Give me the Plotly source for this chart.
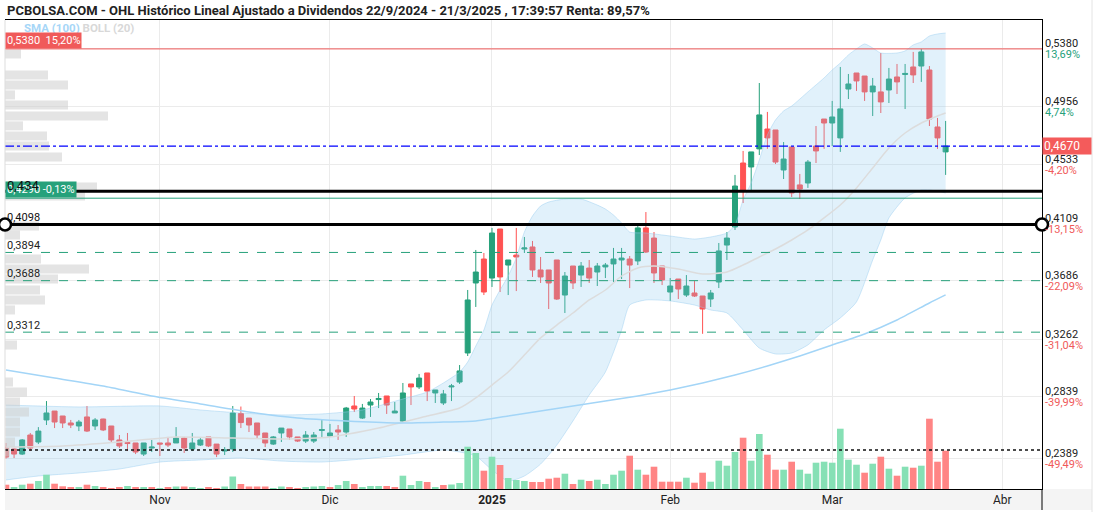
import plotly.graph_objects as go
import pandas as pd

# ---------------- calendar (trading days, Spanish market) ----------------
holidays = ["2024-12-25", "2024-12-26", "2025-01-01"]
days = [d.strftime("%Y-%m-%d") for d in pd.bdate_range("2024-10-07", "2025-04-08")
        if d.strftime("%Y-%m-%d") not in holidays]
n_candles = 117
dates = days[:n_candles]

# ---------------- OHLC ----------------
opens = [0.2466, 0.2459, 0.2422, 0.2561, 0.2510, 0.2671, 0.2736, 0.2700, 0.2649, 0.2627,
         0.2693, 0.2627, 0.2678, 0.2627, 0.2525, 0.2506, 0.2503, 0.2422, 0.2466, 0.2503,
         0.2503, 0.2503, 0.2539, 0.2459, 0.2488, 0.2547, 0.2495, 0.2444, 0.2459, 0.2718,
         0.2685, 0.2649, 0.2576, 0.2495, 0.2576, 0.2605, 0.2547, 0.2517, 0.2517, 0.2594,
         0.2554, 0.2598, 0.2583, 0.2773, 0.2685, 0.2780, 0.2820, 0.2846, 0.2722, 0.2663,
         0.2934, 0.2912, 0.3014, 0.2868, 0.2795, 0.2912, 0.2948, 0.3160, 0.3671, 0.3846,
         0.3707, 0.4065, 0.3802, 0.3875, 0.3919, 0.3934, 0.3766, 0.3766, 0.3839, 0.3583,
         0.3795, 0.3729, 0.3780, 0.3751, 0.3788, 0.3810, 0.3839, 0.3846, 0.3832, 0.4073,
         0.3999, 0.3795, 0.3605, 0.3700, 0.3583, 0.3598, 0.3576, 0.3554, 0.3678, 0.3948,
         0.4080, 0.4547, 0.4518, 0.4650, 0.4795, 0.4788, 0.4496, 0.4664, 0.4387, 0.4401,
         0.4671, 0.4868, 0.4839, 0.4730, 0.5087, 0.5204, 0.5182, 0.5066, 0.5066, 0.5080,
         0.5175, 0.5193, 0.5248, 0.5255, 0.5226, 0.4810, 0.4628]
highs = [0.2503, 0.2462, 0.2532, 0.2576, 0.2619, 0.2809, 0.2736, 0.2700, 0.2671, 0.2671,
         0.2773, 0.2685, 0.2680, 0.2627, 0.2561, 0.2576, 0.2503, 0.2503, 0.2525, 0.2503,
         0.2547, 0.2619, 0.2547, 0.2576, 0.2539, 0.2547, 0.2495, 0.2473, 0.2773, 0.2769,
         0.2685, 0.2649, 0.2576, 0.2554, 0.2612, 0.2605, 0.2547, 0.2590, 0.2583, 0.2671,
         0.2642, 0.2634, 0.2766, 0.2846, 0.2788, 0.2824, 0.2868, 0.2846, 0.2802, 0.2941,
         0.2934, 0.3007, 0.3014, 0.2890, 0.2890, 0.2934, 0.3072, 0.3620, 0.3912, 0.3890,
         0.4073, 0.4065, 0.3839, 0.4073, 0.4007, 0.3978, 0.3861, 0.3766, 0.3839, 0.3751,
         0.3795, 0.3824, 0.3839, 0.3817, 0.3817, 0.3927, 0.3927, 0.3868, 0.4109, 0.4189,
         0.4043, 0.3795, 0.3707, 0.3700, 0.3729, 0.3686, 0.3576, 0.3620, 0.3963, 0.4043,
         0.4460, 0.4635, 0.4628, 0.5131, 0.4920, 0.4788, 0.4700, 0.4664, 0.4467, 0.4569,
         0.4817, 0.4868, 0.5000, 0.5248, 0.5197, 0.5204, 0.5182, 0.5168, 0.5350, 0.5241,
         0.5270, 0.5270, 0.5358, 0.5380, 0.5255, 0.4876, 0.4854]
lows = [0.2389, 0.2393, 0.2415, 0.2444, 0.2495, 0.2634, 0.2612, 0.2612, 0.2612, 0.2590,
        0.2583, 0.2598, 0.2590, 0.2503, 0.2466, 0.2444, 0.2422, 0.2408, 0.2437, 0.2408,
        0.2473, 0.2503, 0.2430, 0.2444, 0.2481, 0.2473, 0.2400, 0.2415, 0.2437, 0.2612,
        0.2583, 0.2532, 0.2473, 0.2488, 0.2510, 0.2525, 0.2510, 0.2503, 0.2503, 0.2547,
        0.2547, 0.2525, 0.2547, 0.2729, 0.2678, 0.2693, 0.2758, 0.2715, 0.2722, 0.2656,
        0.2780, 0.2897, 0.2809, 0.2795, 0.2780, 0.2809, 0.2934, 0.3138, 0.3496, 0.3583,
        0.3642, 0.3605, 0.3583, 0.3612, 0.3890, 0.3715, 0.3671, 0.3481, 0.3547, 0.3452,
        0.3627, 0.3642, 0.3671, 0.3649, 0.3707, 0.3678, 0.3700, 0.3634, 0.3802, 0.3890,
        0.3671, 0.3656, 0.3540, 0.3554, 0.3569, 0.3569, 0.3300, 0.3496, 0.3634, 0.3839,
        0.4058, 0.4255, 0.4350, 0.4605, 0.4650, 0.4540, 0.4430, 0.4299, 0.4284, 0.4365,
        0.4547, 0.4650, 0.4671, 0.4628, 0.5014, 0.5073, 0.5000, 0.4890, 0.4912, 0.4985,
        0.5051, 0.4941, 0.5131, 0.5139, 0.4817, 0.4650, 0.4460]
closes = [0.2400, 0.2422, 0.2525, 0.2466, 0.2590, 0.2722, 0.2656, 0.2649, 0.2634, 0.2656,
          0.2590, 0.2671, 0.2598, 0.2525, 0.2481, 0.2499, 0.2437, 0.2503, 0.2473, 0.2495,
          0.2488, 0.2539, 0.2466, 0.2503, 0.2525, 0.2481, 0.2422, 0.2452, 0.2722, 0.2652,
          0.2634, 0.2561, 0.2503, 0.2547, 0.2612, 0.2547, 0.2517, 0.2561, 0.2561, 0.2601,
          0.2576, 0.2583, 0.2758, 0.2751, 0.2758, 0.2802, 0.2828, 0.2780, 0.2736, 0.2868,
          0.2912, 0.2977, 0.2882, 0.2890, 0.2861, 0.2919, 0.3029, 0.3547, 0.3751, 0.3605,
          0.4036, 0.3715, 0.3839, 0.3861, 0.3927, 0.3766, 0.3715, 0.3671, 0.3554, 0.3722,
          0.3671, 0.3795, 0.3707, 0.3795, 0.3802, 0.3846, 0.3853, 0.3802, 0.4073, 0.3897,
          0.3744, 0.3693, 0.3649, 0.3627, 0.3649, 0.3576, 0.3481, 0.3598, 0.3905, 0.3999,
          0.4379, 0.4343, 0.4628, 0.4898, 0.4730, 0.4554, 0.4576, 0.4328, 0.4357, 0.4554,
          0.4635, 0.4839, 0.4883, 0.4942, 0.5124, 0.5146, 0.5066, 0.5109, 0.4993, 0.5160,
          0.5139, 0.5201, 0.5190, 0.5358, 0.4868, 0.4730, 0.4670]
volumes = [215, 85, 215, 265, 400, 715, 265, 135, 75, 75,
           215, 150, 75, 25, 75, 150, 75, 75, 75, 25,
           75, 125, 125, 75, 25, 75, 25, 125, 625, 250,
           125, 125, 125, 25, 125, 75, 25, 75, 125, 150,
           75, 200, 400, 250, 100, 150, 150, 150, 100, 665,
           200, 400, 350, 100, 200, 225, 300, 2115, 1800, 915,
           1615, 1200, 550, 450, 400, 350, 350, 515, 565, 765,
           250, 465, 400, 465, 250, 715, 915, 1665, 965, 715,
           1115, 365, 365, 365, 565, 315, 815, 365, 1415, 1165,
           1850, 2565, 1415, 2750, 1715, 965, 965, 1365, 965, 765,
           1315, 1365, 1315, 3015, 1465, 1215, 815, 1265, 1615, 1015,
           665, 1115, 1065, 1165, 3515, 1365, 1915]

# ---------------- indicators (sampled from chart; index = candle number) ----------------
sma100_idx = [1, 7, 13, 19, 25, 31, 37, 43, 49, 55, 59, 63, 67, 71, 75, 79, 83, 87, 91, 95,
              99, 103, 107, 111, 115, 117]
sma100_val = [0.3036, 0.2977, 0.2919, 0.2846, 0.2788, 0.2729, 0.2685, 0.2663, 0.2649, 0.2656,
              0.2663, 0.2700, 0.2737, 0.2773, 0.2809, 0.2846, 0.2890, 0.2941, 0.2999, 0.3065,
              0.3138, 0.3218, 0.3299, 0.3401, 0.3525, 0.3584]

boll_up_idx = [1, 10, 20, 25, 30, 35, 40, 45, 50, 53, 55, 57, 58, 59, 60, 61, 62, 63, 64, 65,
               66, 67, 68, 70, 72, 74, 75, 76, 77, 78, 80, 83, 86, 88, 90, 91, 92, 93, 94, 95,
               96, 97, 98, 100, 102, 103, 104, 105, 106, 107, 108, 109, 111, 112, 113, 114,
               115, 116, 117]
boll_up_val = [0.2780, 0.2766, 0.2773, 0.2744, 0.2722, 0.2708, 0.2715, 0.2744, 0.2824, 0.2875,
               0.2941, 0.3021, 0.3094, 0.3211, 0.3328, 0.3510, 0.3620, 0.3722, 0.3854, 0.4043,
               0.4160, 0.4233, 0.4262, 0.4284, 0.4284, 0.4240, 0.4211, 0.4167, 0.4109, 0.4043,
               0.4036, 0.4014, 0.3992, 0.4007, 0.4036, 0.4094, 0.4277, 0.4401, 0.4569, 0.4752,
               0.4861, 0.4927, 0.4963, 0.5066, 0.5168, 0.5226, 0.5277, 0.5336, 0.5380, 0.5416,
               0.5387, 0.5350, 0.5350, 0.5365, 0.5409, 0.5431, 0.5474, 0.5489, 0.5496]

boll_lo_idx = [1, 5, 10, 15, 20, 25, 30, 35, 40, 45, 50, 55, 57, 59, 61, 63, 65, 67, 69, 71,
               73, 75, 77, 78, 80, 83, 86, 88, 90, 92, 94, 96, 98, 100, 102, 104, 106, 108,
               109, 110, 112, 114, 116, 117]
boll_lo_val = [0.2233, 0.2262, 0.2284, 0.2313, 0.2364, 0.2379, 0.2393, 0.2371, 0.2364, 0.2386,
               0.2415, 0.2452, 0.2437, 0.2408, 0.2306, 0.2225, 0.2262, 0.2349, 0.2488, 0.2664,
               0.2853, 0.3021, 0.3328, 0.3510, 0.3547, 0.3540, 0.3510, 0.3474, 0.3452, 0.3328,
               0.3196, 0.3153, 0.3160, 0.3219, 0.3328, 0.3416, 0.3533, 0.3839, 0.3985, 0.4146,
               0.4292, 0.4350, 0.4343, 0.4328]

boll_mid_idx = [1, 8, 15, 22, 29, 35, 41, 47, 53, 57, 59, 61, 63, 65, 67, 69, 71, 73, 75, 77,
                79, 81, 84, 87, 90, 92, 94, 96, 98, 100, 102, 104, 106, 108, 110, 112, 114,
                116, 117]
boll_mid_val = [0.2473, 0.2481, 0.2510, 0.2547, 0.2539, 0.2532, 0.2547, 0.2612, 0.2700, 0.2758,
                0.2832, 0.2926, 0.3021, 0.3145, 0.3270, 0.3364, 0.3452, 0.3547, 0.3620, 0.3722,
                0.3781, 0.3795, 0.3773, 0.3737, 0.3751, 0.3802, 0.3861, 0.3919, 0.3985, 0.4058,
                0.4146, 0.4240, 0.4365, 0.4511, 0.4657, 0.4766, 0.4839, 0.4890, 0.4912]

# volume-by-price profile (left side)
profile_price = [0.5343, 0.5190, 0.5117, 0.5044, 0.4971, 0.4890, 0.4818, 0.4744, 0.4671, 0.4591,
                 0.4372, 0.4306, 0.4087, 0.4021, 0.3846, 0.3773, 0.3700, 0.3620, 0.3547, 0.3474,
                 0.3218, 0.2948, 0.2875, 0.2802, 0.2729, 0.2656, 0.2583, 0.2510, 0.2437]
profile_vol = [16, 43, 63, 10, 63, 103, 18, 42, 44, 57,
               92, 80, 34, 15, 36, 84, 53, 35, 40, 10,
               12, 8, 22, 15, 24, 15, 15, 10, 5]

# axis labels
right_ticks = [0.5380, 0.4956, 0.4533, 0.4109, 0.3686, 0.3262, 0.2839, 0.2389]
right_tick_text = ["0,5380", "0,4956", "0,4533", "0,4109", "0,3686", "0,3262", "0,2839", "0,2389"]
right_pcts = ["13,69%", "4,74%", "-4,20%", "-13,15%", "-22,09%", "-31,04%", "-39,99%", "-49,49%"]
month_ticks = ["2024-11-01", "2024-12-02", "2025-01-02", "2025-02-03", "2025-03-03", "2025-04-01"]
month_labels = ["Nov", "Dic", "<b>2025</b>", "Feb", "Mar", "Abr"]

# horizontal levels
level_max = 0.5380
level_last = 0.4670
level_green = 0.4290
level_black = [0.434, 0.4098]
level_dashed = [0.3894, 0.3688, 0.3312]
level_dashed_text = ["0,3894", "0,3688", "0,3312"]
level_start = 0.2452

GREEN = "#26a17b"
RED = "#ff5252"
VGREEN = "#86e0b5"
VRED = "#ff8585"

def at(idx):
    return [dates[i - 1] for i in idx]

vol_colors = []
for i in range(n_candles):
    if i == 0:
        up = closes[0] >= opens[0]
    else:
        up = closes[i] >= closes[i - 1]
    vol_colors.append(VGREEN if up else VRED)

fig = go.Figure()

# register all calendar categories (incl. future days on the axis)
fig.add_trace(go.Scatter(x=days, y=[None] * len(days), mode="markers",
                         showlegend=False, hoverinfo="skip"))

# Bollinger band
fig.add_trace(go.Scatter(x=at(boll_up_idx), y=boll_up_val, mode="lines",
                         line=dict(color="rgba(150,205,240,0.45)", width=1, shape="spline", smoothing=0.6),
                         showlegend=False, hoverinfo="skip"))
fig.add_trace(go.Scatter(x=at(boll_lo_idx), y=boll_lo_val, mode="lines", fill="tonexty",
                         fillcolor="rgba(135,200,240,0.25)",
                         line=dict(color="rgba(150,205,240,0.45)", width=1, shape="spline", smoothing=0.6),
                         showlegend=False, hoverinfo="skip"))
fig.add_trace(go.Scatter(x=at(boll_mid_idx), y=boll_mid_val, mode="lines",
                         line=dict(color="#dcdcdc", width=1.5, shape="spline", smoothing=0.6),
                         showlegend=False, hoverinfo="skip"))
fig.add_trace(go.Scatter(x=at(sma100_idx), y=sma100_val, mode="lines",
                         line=dict(color="#a3d5f7", width=1.5, shape="spline", smoothing=0.6),
                         showlegend=False, hoverinfo="skip"))

# candles
fig.add_trace(go.Candlestick(x=dates, open=opens, high=highs, low=lows, close=closes,
                             increasing=dict(line=dict(color=GREEN, width=1), fillcolor=GREEN),
                             decreasing=dict(line=dict(color=RED, width=1), fillcolor=RED),
                             whiskerwidth=0, showlegend=False))

# volume
fig.add_trace(go.Bar(x=dates, y=volumes, yaxis="y2", marker=dict(color=vol_colors, line=dict(width=0)),
                     width=0.82, showlegend=False, hoverinfo="skip"))

# volume profile
fig.add_trace(go.Bar(x=profile_vol, y=profile_price, orientation="h", xaxis="x2", yaxis="y",
                     width=0.0066, marker=dict(color="rgba(205,205,205,0.55)", line=dict(width=0)),
                     showlegend=False, hoverinfo="skip"))

W_PLOT = 1037
shapes = []
def hline(y, color, width=1, dash="solid"):
    shapes.append(dict(type="line", xref="paper", x0=0, x1=1, yref="y", y0=y, y1=y,
                       line=dict(color=color, width=width, dash=dash)))

hline(level_max, "#f05a5a", 1)
hline(level_green, GREEN, 1)
for v in level_dashed:
    hline(v, GREEN, 1, "dash")
hline(level_last, "#0000ff", 1.2, "dashdot")
hline(level_start, "#111111", 1.5, "dot")
for v in level_black:
    hline(v, "#000000", 3)

# frame extras
shapes.append(dict(type="rect", xref="paper", yref="paper", x0=0, x1=1087 / W_PLOT,
                   y0=-21 / 469, y1=0, fillcolor="#f4f4f4", line=dict(width=0), layer="below"))
shapes.append(dict(type="line", xref="paper", yref="paper", x0=0, x1=0, y0=0, y1=1,
                   line=dict(color="#dddddd", width=1)))
shapes.append(dict(type="line", xref="paper", yref="paper", x0=1, x1=1, y0=-21 / 469, y1=0,
                   line=dict(color="#000000", width=1)))
shapes.append(dict(type="line", xref="paper", yref="paper", x0=1087 / W_PLOT, x1=1087 / W_PLOT,
                   y0=-23 / 469, y1=1 + 20 / 469, line=dict(color="#e4e4e4", width=1)))
# circles on the 0,4098 line
for xa in (0, 1):
    shapes.append(dict(type="circle", xref="paper", xsizemode="pixel", xanchor=xa, x0=-6, x1=6,
                       yref="y", ysizemode="pixel", yanchor=level_black[1], y0=-6, y1=6,
                       fillcolor="white", line=dict(color="black", width=2.5)))

ann = []
FONT = "Roboto, Arial, sans-serif"
# title
ann.append(dict(xref="paper", yref="paper", x=0, y=1, xanchor="left", yanchor="middle", yshift=10,
                text="<b>PCBOLSA.COM - OHL Histórico Lineal Ajustado a Dividendos 22/9/2024 - 21/3/2025 , 17:39:57 Renta: 89,57%</b>",
                showarrow=False, font=dict(family=FONT, size=13, color="#222222")))
ann.append(dict(xref="paper", yref="paper", x=17 / W_PLOT, y=1, xanchor="left", yanchor="middle", yshift=-8,
                text="<b><span style='color:#a6d6f7'>SMA (100)</span> <span style='color:#d8d8d8'>BOLL (20)</span></b>",
                showarrow=False, font=dict(family=FONT, size=11.5)))
# left value boxes
ann.append(dict(xref="paper", x=0, xanchor="left", yref="y", y=level_max, yanchor="bottom",
                text="0,5380\u00a0\u00a015,20%", showarrow=False, bgcolor="#f05a5a", borderpad=1,
                font=dict(family=FONT, size=11, color="white")))
ann.append(dict(xref="paper", x=0, xanchor="left", yref="y", y=level_green, yanchor="bottom",
                text="0,4290\u00a0-0,13%", showarrow=False, bgcolor=GREEN, borderpad=1,
                font=dict(family=FONT, size=11, color="white")))
ann.append(dict(xref="paper", x=0, xanchor="left", yref="y", y=level_black[0], yanchor="middle", yshift=6,
                text="0,434", showarrow=False, font=dict(family=FONT, size=13, color="#111111")))
ann.append(dict(xref="paper", x=0, xanchor="left", yref="y", y=level_black[1], yanchor="middle", yshift=7,
                text="0,4098", showarrow=False, font=dict(family=FONT, size=11, color="#111111")))
for v, t in zip(level_dashed, level_dashed_text):
    ann.append(dict(xref="paper", x=0, xanchor="left", yref="y", y=v, yanchor="middle", yshift=7,
                    text=t, showarrow=False, font=dict(family=FONT, size=11, color="#222222")))
# right axis labels
for v, t, p in zip(right_ticks, right_tick_text, right_pcts):
    col = GREEN if not p.startswith("-") else "#f05a5a"
    ann.append(dict(xref="paper", x=1, xanchor="left", xshift=1, yref="y", y=v, yanchor="middle", yshift=5,
                    text=t, showarrow=False, font=dict(family=FONT, size=11, color="#222222")))
    ann.append(dict(xref="paper", x=1, xanchor="left", xshift=1, yref="y", y=v, yanchor="middle", yshift=-6,
                    text=p, showarrow=False, font=dict(family=FONT, size=11, color=col)))
# last price box
ann.append(dict(xref="paper", x=1, xanchor="left", yref="y", y=level_last, yanchor="middle",
                text="0,4670", showarrow=False, bgcolor="#f45b5b", borderpad=1, width=46, align="left",
                font=dict(family=FONT, size=12, color="white")))

fig.update_layout(
    width=1096, height=512,
    margin=dict(l=5, r=54, t=20, b=23),
    paper_bgcolor="white", plot_bgcolor="white",
    font=dict(family=FONT, size=11, color="#222222"),
    showlegend=False, boxgap=0.12,
    xaxis=dict(type="category", categoryorder="array", categoryarray=days,
               range=[-0.12, 127.9], tickmode="array", tickvals=month_ticks, ticktext=month_labels,
               showgrid=True, gridcolor="#ebebeb", gridwidth=1, ticks="",
               showline=True, linecolor="#000000", linewidth=1, mirror=True,
               rangeslider=dict(visible=False),
               tickfont=dict(family="Liberation Sans Narrow, Roboto, Arial", size=12, color="#222222")),
    xaxis2=dict(overlaying="x", range=[0, W_PLOT], visible=False, anchor="y"),
    yaxis=dict(side="right", range=[0.2167, 0.5591], tickmode="array", tickvals=right_ticks,
               showticklabels=False, ticks="", showgrid=True, gridcolor="#ebebeb", zeroline=False,
               showline=True, linecolor="#000000", linewidth=1),
    yaxis2=dict(overlaying="y", range=[0, 23450], visible=False),
    shapes=shapes, annotations=ann,
)

fig.write_html("out.html")
